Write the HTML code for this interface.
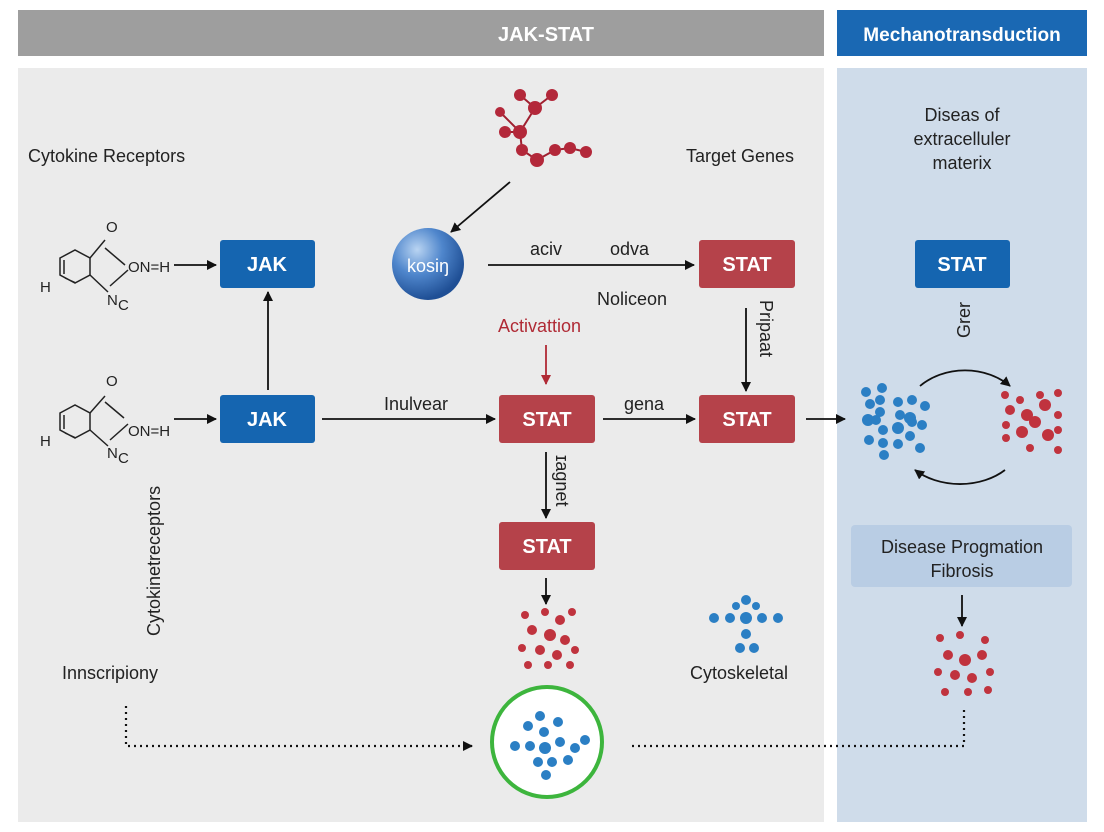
<!DOCTYPE html>
<html><head><meta charset="utf-8"><style>
body{margin:0;background:#fff;}
svg{display:block;font-family:"Liberation Sans",sans-serif;}
</style></head><body>
<svg width="1104" height="832" viewBox="0 0 1104 832">
<defs>
<marker id="a" markerWidth="10" markerHeight="10" refX="9" refY="5" orient="auto" markerUnits="userSpaceOnUse"><path d="M0,0 L10,5 L0,10 z" fill="#111"/></marker>
<marker id="r" markerWidth="10" markerHeight="10" refX="9" refY="5" orient="auto" markerUnits="userSpaceOnUse"><path d="M0,0 L10,5 L0,10 z" fill="#b02a35"/></marker>
<radialGradient id="bg" cx="35%" cy="30%" r="70%"><stop offset="0" stop-color="#b9d4f2"/><stop offset="0.5" stop-color="#4f86cc"/><stop offset="1" stop-color="#1f4f95"/></radialGradient>
</defs>
<rect x="18" y="10" width="806" height="46" fill="#9e9e9e"/>
<text x="546" y="41" fill="#fff" font-size="20" font-weight="bold" text-anchor="middle">JAK-STAT</text>
<rect x="837" y="10" width="250" height="46" fill="#1a68b3"/>
<text x="962" y="41" fill="#fff" font-size="19" font-weight="bold" text-anchor="middle">Mechanotransduction</text>
<rect x="18" y="68" width="806" height="754" fill="#ebebeb"/>
<rect x="837" y="68" width="250" height="754" fill="#cfdcea"/>

<g font-size="18" fill="#222">
<text x="28" y="162">Cytokine Receptors</text>
<text x="686" y="162">Target Genes</text>
<text x="962" y="121" text-anchor="middle">Diseas of</text>
<text x="962" y="145" text-anchor="middle">extracelluler</text>
<text x="962" y="169" text-anchor="middle">materix</text>
<text x="530" y="255">aciv</text>
<text x="610" y="255">odva</text>
<text x="597" y="305">Noliceon</text>
<text x="498" y="332" fill="#b02a35">Activattion</text>
<text x="384" y="410">Inulvear</text>
<text x="624" y="410">gena</text>
<text x="62" y="679">Innscripiony</text>
<text x="690" y="679">Cytoskeletal</text>
<text transform="translate(160,636) rotate(-90)">Cytokinetreceptors</text>
<text transform="translate(760,300) rotate(90)">Pripaat</text>
<text transform="translate(556,455) rotate(90)">ɪagnet</text>
<text transform="translate(970,338) rotate(-90)">Grer</text>
</g>

<g font-size="20" font-weight="bold" fill="#fff" text-anchor="middle">
<rect x="220" y="240" width="95" height="48" rx="3" fill="#1565b0"/><text x="267" y="271">JAK</text>
<rect x="220" y="395" width="95" height="48" rx="3" fill="#1565b0"/><text x="267" y="426">JAK</text>
<rect x="499" y="395" width="96" height="48" rx="3" fill="#b5424a"/><text x="547" y="426">STAT</text>
<rect x="699" y="240" width="96" height="48" rx="3" fill="#b5424a"/><text x="747" y="271">STAT</text>
<rect x="699" y="395" width="96" height="48" rx="3" fill="#b5424a"/><text x="747" y="426">STAT</text>
<rect x="499" y="522" width="96" height="48" rx="3" fill="#b5424a"/><text x="547" y="553">STAT</text>
<rect x="915" y="240" width="95" height="48" rx="3" fill="#1565b0"/><text x="962" y="271">STAT</text>
</g>
<rect x="851" y="525" width="221" height="62" rx="4" fill="#b9cde4"/>
<text x="962" y="553" font-size="18" fill="#222" text-anchor="middle">Disease Progmation</text>
<text x="962" y="577" font-size="18" fill="#222" text-anchor="middle">Fibrosis</text>

<circle cx="428" cy="264" r="36" fill="url(#bg)"/>
<text x="428" y="272" font-size="18" fill="#fff" text-anchor="middle">kosiŋ</text>

<g stroke="#111" stroke-width="1.8" fill="none" marker-end="url(#a)">
<line x1="174" y1="265" x2="216" y2="265"/>
<line x1="174" y1="419" x2="216" y2="419"/>
<line x1="268" y1="390" x2="268" y2="292"/>
<line x1="510" y1="182" x2="451" y2="232"/>
<line x1="488" y1="265" x2="694" y2="265"/>
<line x1="322" y1="419" x2="495" y2="419"/>
<line x1="603" y1="419" x2="695" y2="419"/>
<line x1="746" y1="308" x2="746" y2="391"/>
<line x1="806" y1="419" x2="845" y2="419"/>
<line x1="546" y1="452" x2="546" y2="518"/>
<line x1="546" y1="578" x2="546" y2="604"/>
<line x1="962" y1="595" x2="962" y2="626"/>
<path d="M920,386 A62,50 0 0 1 1010,386"/>
<path d="M1005,470 A62,45 0 0 1 915,470" />
</g>
<line x1="546" y1="345" x2="546" y2="384" stroke="#b02a35" stroke-width="1.8" marker-end="url(#r)"/>
<g stroke="#111" stroke-width="2.2" stroke-dasharray="2,4" fill="none">
<path d="M126,706 V746 H472" marker-end="url(#a)"/>
<path d="M632,746 H964 V706"/>
</g>

<circle cx="547" cy="742" r="55" fill="#fff" stroke="#3db53d" stroke-width="4"/>

<g stroke="#222" stroke-width="1.5" fill="none">
<path d="M60,258 L75,250 L90,258 L90,275 L75,283 L60,275 Z M64,260 L64,274 M65,278 L76,283"/>
<path d="M90,258 L105,240 M90,275 L108,292 M105,248 L125,265 M110,286 L128,270"/>
<path d="M60,413 L75,405 L90,413 L90,430 L75,438 L60,430 Z M64,415 L64,429 M65,433 L76,438"/>
<path d="M90,413 L105,396 M90,430 L108,446 M105,402 L124,418 M110,440 L128,424"/>
</g>
<g font-size="15" fill="#222">
<text x="106" y="232">O</text><text x="128" y="272">ON=H</text><text x="40" y="292">H</text><text x="107" y="305">N</text><text x="118" y="310">C</text>
<text x="106" y="386">O</text><text x="128" y="436">ON=H</text><text x="40" y="446">H</text><text x="107" y="458">N</text><text x="118" y="463">C</text>
</g>

<g stroke="#a02030" stroke-width="2" fill="none"><path d="M520,95 L535,108 L552,95 M535,108 L520,132 L505,132 M520,132 L522,150 L537,160 L555,150 L570,148 L586,152 M500,112 L520,132"/></g>
<g fill="#b3283a">
<circle cx="520" cy="95" r="6"/><circle cx="552" cy="95" r="6"/><circle cx="535" cy="108" r="7"/><circle cx="520" cy="132" r="7"/><circle cx="505" cy="132" r="6"/><circle cx="522" cy="150" r="6"/><circle cx="537" cy="160" r="7"/><circle cx="555" cy="150" r="6"/><circle cx="570" cy="148" r="6"/><circle cx="586" cy="152" r="6"/><circle cx="500" cy="112" r="5"/>
</g>

<g fill="#c0333e">
<circle cx="525" cy="615" r="4"/><circle cx="545" cy="612" r="4"/><circle cx="560" cy="620" r="5"/><circle cx="572" cy="612" r="4"/><circle cx="532" cy="630" r="5"/><circle cx="550" cy="635" r="6"/><circle cx="565" cy="640" r="5"/><circle cx="522" cy="648" r="4"/><circle cx="540" cy="650" r="5"/><circle cx="557" cy="655" r="5"/><circle cx="575" cy="650" r="4"/><circle cx="528" cy="665" r="4"/><circle cx="548" cy="665" r="4"/><circle cx="570" cy="665" r="4"/>
<circle cx="940" cy="638" r="4"/><circle cx="960" cy="635" r="4"/><circle cx="985" cy="640" r="4"/><circle cx="948" cy="655" r="5"/><circle cx="965" cy="660" r="6"/><circle cx="982" cy="655" r="5"/><circle cx="938" cy="672" r="4"/><circle cx="955" cy="675" r="5"/><circle cx="972" cy="678" r="5"/><circle cx="990" cy="672" r="4"/><circle cx="945" cy="692" r="4"/><circle cx="968" cy="692" r="4"/><circle cx="988" cy="690" r="4"/>
<circle cx="1005" cy="395" r="4"/><circle cx="1020" cy="400" r="4"/><circle cx="1040" cy="395" r="4"/><circle cx="1058" cy="393" r="4"/><circle cx="1010" cy="410" r="5"/><circle cx="1027" cy="415" r="6"/><circle cx="1045" cy="405" r="6"/><circle cx="1058" cy="415" r="4"/><circle cx="1006" cy="425" r="4"/><circle cx="1035" cy="422" r="6"/><circle cx="1022" cy="432" r="6"/><circle cx="1048" cy="435" r="6"/><circle cx="1006" cy="438" r="4"/><circle cx="1058" cy="430" r="4"/><circle cx="1030" cy="448" r="4"/><circle cx="1058" cy="450" r="4"/>
</g>
<g fill="#2b7fc4">
<circle cx="866" cy="392" r="5"/><circle cx="882" cy="388" r="5"/><circle cx="870" cy="404" r="5"/><circle cx="880" cy="400" r="5"/><circle cx="880" cy="412" r="5"/><circle cx="868" cy="420" r="6"/><circle cx="876" cy="420" r="5"/><circle cx="883" cy="430" r="5"/><circle cx="869" cy="440" r="5"/><circle cx="883" cy="443" r="5"/><circle cx="884" cy="455" r="5"/><circle cx="898" cy="402" r="5"/><circle cx="912" cy="400" r="5"/><circle cx="925" cy="406" r="5"/><circle cx="900" cy="415" r="5"/><circle cx="910" cy="418" r="6"/><circle cx="898" cy="428" r="6"/><circle cx="912" cy="422" r="5"/><circle cx="922" cy="425" r="5"/><circle cx="910" cy="436" r="5"/><circle cx="898" cy="444" r="5"/><circle cx="920" cy="448" r="5"/>
<circle cx="746" cy="600" r="5"/><circle cx="746" cy="618" r="6"/><circle cx="730" cy="618" r="5"/><circle cx="714" cy="618" r="5"/><circle cx="762" cy="618" r="5"/><circle cx="778" cy="618" r="5"/><circle cx="746" cy="634" r="5"/><circle cx="740" cy="648" r="5"/><circle cx="754" cy="648" r="5"/><circle cx="736" cy="606" r="4"/><circle cx="756" cy="606" r="4"/>
<circle cx="540" cy="716" r="5"/><circle cx="528" cy="726" r="5"/><circle cx="544" cy="732" r="5"/><circle cx="558" cy="722" r="5"/><circle cx="515" cy="746" r="5"/><circle cx="530" cy="746" r="5"/><circle cx="545" cy="748" r="6"/><circle cx="560" cy="742" r="5"/><circle cx="575" cy="748" r="5"/><circle cx="585" cy="740" r="5"/><circle cx="538" cy="762" r="5"/><circle cx="552" cy="762" r="5"/><circle cx="568" cy="760" r="5"/><circle cx="546" cy="775" r="5"/>
</g>
</svg>
</body></html>
